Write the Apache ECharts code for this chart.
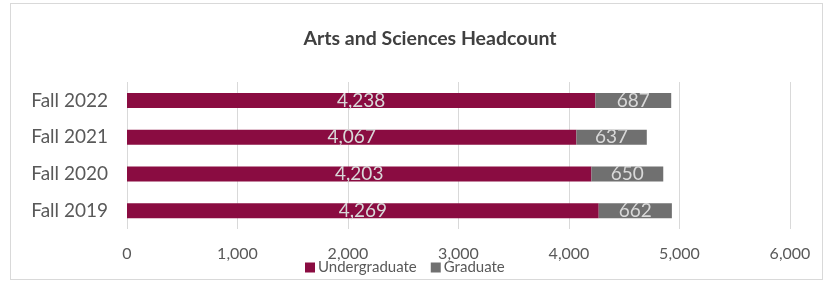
<!DOCTYPE html>
<html>
<head>
<meta charset="utf-8">
<script src="https://cdn.jsdelivr.net/npm/echarts@6/dist/echarts.min.js"></script>
<style>
  html, body { margin: 0; padding: 0; background: #fff; }
  #frame { position: absolute; left: 10px; top: 3px; width: 811px; height: 275px; border: 1px solid #d9d9d9; }
  #chart { width: 834px; height: 283px; position: absolute; left: 0; top: 0; }
</style>
</head>
<body>
<div id="frame"></div>
<div id="chart"></div>
<script>
const categories = ['Fall 2019', 'Fall 2020', 'Fall 2021', 'Fall 2022'];
const undergraduate = [4269, 4203, 4067, 4238];
const graduate = [662, 650, 637, 687];
const xTicks = [0, 6000, 1000];

const chart = echarts.init(document.getElementById('chart'));
const fmt = p => p.value.toLocaleString('en-US');
chart.setOption({
    animation: false,
    textStyle: { fontFamily: 'Lato' },
    title: {
        text: 'Arts and Sciences Headcount',
        left: 425, top: 24, textAlign: 'center',
        textStyle: { fontSize: 19.5, fontWeight: 'bold', color: '#404040', fontFamily: 'Lato' }
    },
    grid: { left: 127, right: 44, top: 82, bottom: 54 },
    legend: {
        bottom: 3, left: 300,
        itemWidth: 10, itemHeight: 10, itemGap: 14,
        icon: 'rect',
        textStyle: { fontSize: 15, color: '#595959', padding: [0, 0, 0, -2] },
        data: ['Undergraduate', 'Graduate']
    },
    xAxis: {
        type: 'value', min: xTicks[0], max: xTicks[1], interval: xTicks[2],
        axisLine: { show: false }, axisTick: { show: false },
        splitLine: { lineStyle: { color: '#d9d9d9', width: 1 } },
        axisLabel: { fontSize: 16, color: '#595959', margin: 17,
            formatter: v => v.toLocaleString('en-US') }
    },
    yAxis: {
        type: 'category', data: categories,
        axisLine: { show: false }, axisTick: { show: false },
        axisLabel: { fontSize: 19, color: '#595959', margin: 19 }
    },
    series: [
        {
            name: 'Undergraduate', type: 'bar', stack: 'total', data: undergraduate,
            barWidth: 15,
            itemStyle: { color: '#8a0c41' },
            label: { show: true, position: 'inside', color: '#d9d9d9', fontSize: 19, formatter: fmt }
        },
        {
            name: 'Graduate', type: 'bar', stack: 'total', data: graduate,
            barWidth: 15,
            itemStyle: { color: '#707070' },
            label: { show: true, position: 'inside', color: '#d9d9d9', fontSize: 19, formatter: fmt }
        }
    ]
});
</script>
</body>
</html>
